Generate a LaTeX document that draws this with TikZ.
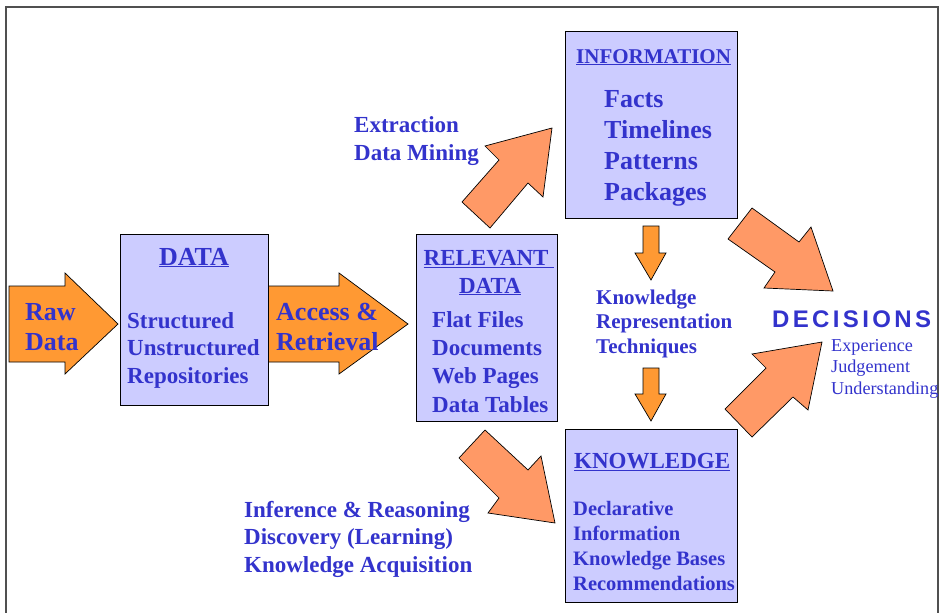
\documentclass[tikz,border=0pt]{standalone}
\usepackage{fontspec}
\setmainfont{Liberation Serif}
\newfontfamily\decfont[LetterSpace=14]{Liberation Sans}
\definecolor{txtblue}{RGB}{51,51,204}
\definecolor{boxfill}{RGB}{204,204,255}
\definecolor{orangeA}{RGB}{255,153,51}
\definecolor{orangeB}{RGB}{255,153,102}
\definecolor{framegray}{RGB}{80,80,80}
\tikzset{
  box/.style={draw=black, fill=boxfill, line width=1pt, inner sep=0pt, anchor=north west},
  blockA/.style={draw=black, fill=orangeA, line width=0.7pt},
  blockB/.style={draw=black, fill=orangeB, line width=0.7pt},
  lbl/.style={text=txtblue, inner sep=0pt, align=left, anchor=base west},
  ttl/.style={text=txtblue, inner sep=0pt, anchor=base},
}
\begin{document}
\begin{tikzpicture}[x=1pt,y=-1pt]
\useasboundingbox (0,0) rectangle (940,613);
% frame
\draw[framegray, line width=1.5pt] (6,613) -- (6,7) -- (938,7) -- (938,613);

% horizontal block arrows
\draw[blockA] (9,286) -- (65,286) -- (65,273) -- (118,324) -- (65,374) -- (65,362) -- (9,362) -- cycle;
\draw[blockA] (268,286) -- (339,286) -- (339,273) -- (408,324) -- (339,374) -- (339,362) -- (268,362) -- cycle;
% small down arrows
\draw[blockA] (643,226) -- (659,226) -- (659,253) -- (666,253) -- (651,280) -- (635,253) -- (643,253) -- cycle;
\draw[blockA] (643,368) -- (659,368) -- (659,394) -- (666,394) -- (651,421) -- (635,394) -- (643,394) -- cycle;
% diagonal block arrows
\draw[blockB] (552,128) -- (485,146) -- (499,160) -- (462,202) -- (490,228) -- (528,183) -- (543,197) -- cycle;
\draw[blockB] (752,208) -- (799,242) -- (811,227) -- (833,291) -- (764,288) -- (775,272) -- (728,239) -- cycle;
\draw[blockB] (822,342) -- (752,354) -- (766,368) -- (725,409) -- (752,437) -- (793,397) -- (808,410) -- cycle;
\draw[blockB] (485,430) -- (459,458) -- (499,498) -- (488,513) -- (555,523) -- (541,456) -- (528,470) -- cycle;

% boxes
\node[box, minimum width=148pt, minimum height=171pt] (data) at (120,234) {};
\node[box, minimum width=141pt, minimum height=187pt] (relevant) at (416,234) {};
\node[box, minimum width=172pt, minimum height=187pt] (information) at (565,31) {};
\node[box, minimum width=172pt, minimum height=173pt] (knowledge) at (565,429) {};

% texts (base anchor = baseline of the last line)
\node[lbl, font=\bfseries\fontsize{26}{30}\selectfont] (rawtxt) at (25,350) {Raw\\Data};
\node[ttl, font=\bfseries\fontsize{26}{30}\selectfont] (datattl) at (194,265) {\underline{DATA}};
\node[lbl, font=\bfseries\fontsize{23}{27.5}\selectfont] (datatxt) at (127,383) {Structured\\Unstructured\\Repositories};
\node[lbl, font=\bfseries\fontsize{26}{30}\selectfont] (accesstxt) at (276,350) {Access \&\\Retrieval};
\node[ttl, font=\bfseries\fontsize{23}{28}\selectfont] (relttl1) at (489,265) {\underline{RELEVANT\ }};
\node[ttl, font=\bfseries\fontsize{23}{28}\selectfont] (relttl2) at (490,293) {\underline{DATA}};
\node[lbl, font=\bfseries\fontsize{23}{28.3}\selectfont] (reltxt) at (432,412) {Flat Files\\Documents\\Web Pages\\Data Tables};
\node[lbl, font=\bfseries\fontsize{21}{25}\selectfont] (infottl) at (576,63) {\underline{INFORMATION}};
\node[lbl, font=\bfseries\fontsize{26}{30.7}\selectfont] (infotxt) at (604,200) {Facts\\Timelines\\Patterns\\Packages};
\node[lbl, font=\bfseries\fontsize{23}{27}\selectfont] (knowttl) at (574,468) {\underline{KNOWLEDGE}};
\node[lbl, font=\bfseries\fontsize{20.5}{25}\selectfont] (knowtxt) at (573,590) {Declarative\\Information\\Knowledge Bases\\Recommendations};
\node[lbl, font=\bfseries\fontsize{23}{28}\selectfont] (extrtxt) at (354,160) {Extraction\\Data Mining};
\node[lbl, font=\bfseries\fontsize{21}{24.3}\selectfont] (krtxt) at (596,353) {Knowledge\\Representation\\Techniques};
\node[lbl, font=\bfseries\fontsize{23}{27.5}\selectfont] (inftxt) at (244,572) {Inference \& Reasoning\\Discovery (Learning)\\Knowledge Acquisition};
\node[lbl, font=\decfont\bfseries\fontsize{24}{28}\selectfont] (dectxt) at (772,327) {DECISIONS};
\node[lbl, font=\fontsize{18.2}{21.5}\selectfont] (exptxt) at (831,394) {Experience\\Judgement\\Understanding};
\end{tikzpicture}
\end{document}
